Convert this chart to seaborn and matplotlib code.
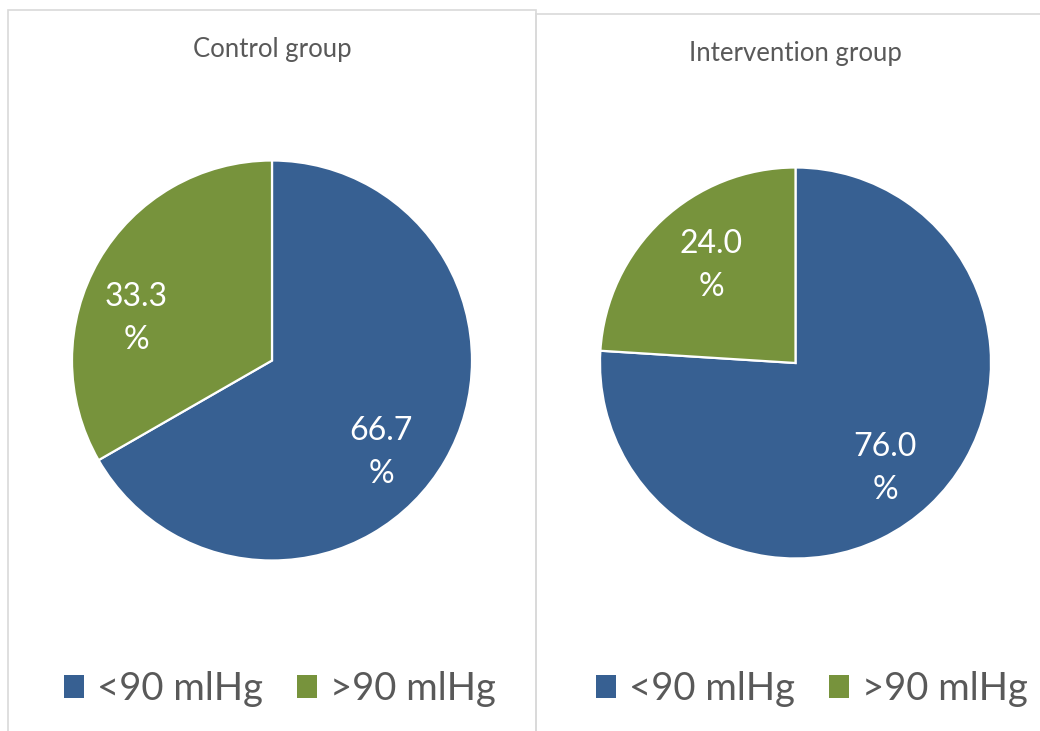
import matplotlib
matplotlib.use("Agg")
import matplotlib.pyplot as plt
from matplotlib.patches import Rectangle, Patch
import seaborn as sns

# ---- data ----
categories = ["<90 mlHg", ">90 mlHg"]
groups = ["Control group", "Intervention group"]
control_values = [66.7, 33.3]
intervention_values = [76.0, 24.0]

# ---- style ----
sns.set_theme(style="white")
plt.rcParams["font.family"] = ["Lato", "DejaVu Sans"]
colors = ["#376092", "#77933C"]
text_gray = "#595959"

W, H = 1040, 731
fig = plt.figure(figsize=(W / 100, H / 100), dpi=100)
fig.patch.set_facecolor("white")

def fx(px):
    return px / W

def fy(py):
    return 1 - py / H

# panel borders
for (x0, y0, x1, y1) in [(8, 10, 536, 740), (536, 14, 1045, 740)]:
    fig.patches.append(Rectangle((fx(x0), fy(y1)), fx(x1 - x0), (y1 - y0) / H,
                                 transform=fig.transFigure, fill=False,
                                 edgecolor="#D9D9D9", linewidth=1.2))

# pie layout (pixel boxes: cx, cy, r), title pos, label offsets, legend anchor
pies = [
    dict(vals=control_values, title=groups[0], c=(272, 360.5), r=200,
         title_xy=(272, 50), lab=[(0.545, -0.46), (-0.68, 0.21)], leg_x=280),
    dict(vals=intervention_values, title=groups[1], c=(795.5, 363), r=195.5,
         title_xy=(795, 54), lab=[(0.46, -0.54), (-0.43, 0.50)], leg_x=812),
]

for p in pies:
    cx, cy = p["c"]
    r = p["r"]
    ax = fig.add_axes([fx(cx - r), fy(cy + r), fx(2 * r), 2 * r / H])
    wedges, texts, autotexts = ax.pie(
        p["vals"], colors=colors, startangle=90, counterclock=False,
        autopct=lambda v: f"{v:.1f}\n%", radius=1,
        wedgeprops=dict(edgecolor="white", linewidth=1.6),
        textprops=dict(color="white", fontsize=23, linespacing=1.55))
    for t, (dx, dy) in zip(autotexts, p["lab"]):
        t.set_position((dx, dy))
        t.set_ha("center")
        t.set_va("center")
    ax.set_xlim(-1, 1)
    ax.set_ylim(-1, 1)
    ax.set_aspect("equal")
    ax.axis("off")
    fig.text(fx(p["title_xy"][0]), fy(p["title_xy"][1]), p["title"],
             ha="center", va="center", fontsize=18.5, color=text_gray)
    handles = [Patch(facecolor=c, edgecolor="none") for c in colors]
    fig.legend(handles, categories, loc="center", ncol=2,
               bbox_to_anchor=(fx(p["leg_x"]), fy(689)), frameon=False,
               fontsize=27.5, labelcolor=text_gray, handlelength=0.53,
               handleheight=0.53, handletextpad=0.33, columnspacing=0.9,
               borderpad=0, borderaxespad=0)

fig.savefig("out.png", dpi=100)
